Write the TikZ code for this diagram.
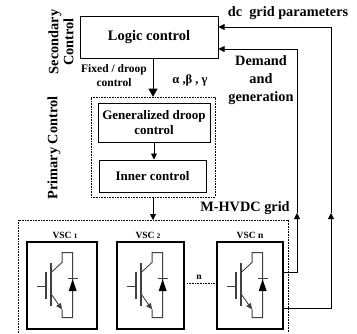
\documentclass[tikz,border=0pt]{standalone}
\usepackage{fontspec}
\setmainfont{Liberation Serif}
\usetikzlibrary{arrows.meta}
\tikzset{
  box/.style={draw, line width=1pt, inner sep=1pt, align=center, font=\bfseries\fontsize{13}{15}\selectfont},
  dotbox/.style={draw, line width=0.6pt, dash pattern=on 0.8pt off 0.8pt},
  dotline/.style={line width=0.6pt, dash pattern=on 0.8pt off 0.8pt},
  vsc/.style={draw, line width=1.3pt},
  lbl/.style={font=\bfseries\fontsize{14.3}{18}\selectfont, align=center, inner sep=0pt},
  small/.style={font=\bfseries\fontsize{11.5}{14}\selectfont, align=center, inner sep=0pt},
  vlbl/.style={font=\bfseries\fontsize{9.5}{11}\selectfont, inner sep=0pt},
  arr/.style={-{Triangle[length=6pt,width=6pt]}, line width=0.9pt},
  bigarr/.style={-{Triangle[length=8pt,width=9pt]}, line width=0.9pt},
  gline/.style={draw=black!75, line width=0.9pt},
  gbar/.style={draw=black!75, line width=1.3pt},
  igbt/.pic={
    \draw[gline] (11,45) -- (19.7,45);
    \draw[gbar] (19.7,31) -- (19.7,58);
    \draw[gbar] (24.7,22) -- (24.7,65);
    \draw[gline] (25,31) -- (35.7,21) -- (35.7,11.3) -- (46.3,11.3) -- (46.3,76.3) -- (35.7,76.3) -- (35.7,68);
    \draw[gline, -{Triangle[length=6pt,width=5.5pt]}] (25,53) -- (35.7,68);
    \fill[black] (46.3,38) -- (42.3,49.7) -- (50.3,49.7) -- cycle;
    \draw[gline] (41.3,37.5) -- (51.3,37.5);
  }
}
\begin{document}
\begin{tikzpicture}[x=1pt,y=-1pt]
\useasboundingbox (0,0) rectangle (357,333);

% secondary level
\node[box, minimum width=138pt, minimum height=42pt, font=\bfseries\fontsize{14.5}{17}\selectfont] (logic) at (149,37) {Logic control};
\node[lbl, rotate=90, font=\bfseries\fontsize{14.3}{15}\selectfont] (sec) at (61,42) {Secondary\\Control};
\node[small] (fixed) at (114,76) {Fixed / droop\\control};
\node[lbl, font=\bfseries\fontsize{12.5}{14}\selectfont] (abg) at (190,80) {α ,β , γ};
\node[lbl] (dcp) at (288,13) {dc\ \ grid parameters};
\node[lbl] (dem) at (261,80) {Demand\\and\\generation};

% primary level
\node[dotbox, minimum width=124pt, minimum height=100pt] (primary) at (153,147) {};
\node[lbl, rotate=90] (prim) at (54,148) {Primary Control};
\node[box, minimum width=112pt, minimum height=39pt] (gdc) at (154,122.5) {Generalized droop\\control};
\node[box, minimum width=107pt, minimum height=32pt] (inner) at (152.5,176) {Inner control};

% grid level
\draw[dotline] (18,333) -- (18,220) -- (288,220) -- (288,333);
\coordinate (gtop) at (153,220);
\node[lbl] (mh) at (245,208) {M-HVDC grid};

\node[vsc, minimum width=70pt, minimum height=87pt] (vsc1) at (62,285.5) {};
\node[vsc, minimum width=67pt, minimum height=87pt] (vsc2) at (150.5,285.5) {};
\node[vsc, minimum width=66pt, minimum height=87pt] (vscn) at (250,285.5) {};
\node[vlbl] (l1) at (65,235) {VSC {\fontsize{7}{8}\selectfont 1}};
\node[vlbl] (l2) at (148,235) {VSC {\fontsize{7}{8}\selectfont 2}};
\node[vlbl] (ln) at (250,235) {VSC n};
\pic at (vsc1.north west) {igbt};
\pic at (vsc2.north west) {igbt};
\pic at (vscn.north west) {igbt};
\node[vlbl] (nn) at (199,277) {n};
\draw[dotline] (187,283) -- (vscn.west |- 0,283);

% arrows
\draw[bigarr] (logic.south -| primary.north) -- (primary.north);
\draw[arr] (gdc.south) -- (gdc.south |- inner.north);
\draw[arr] (primary.south) -- (gtop);

\coordinate (m1) at (297,213);
\coordinate (m2) at (331,213);
\draw[arr] (vscn.east |- 0,272) -| (m1);
\draw[arr] (m1) |- (logic.east |- 0,49);
\draw[arr] (vscn.east |- 0,308) -| (m2);
\draw[arr] (m2) |- (logic.east |- 0,27);
\end{tikzpicture}
\end{document}
